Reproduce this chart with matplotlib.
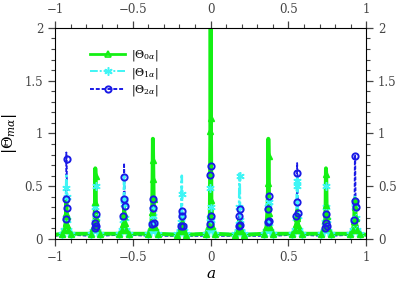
import numpy as np
import matplotlib
matplotlib.use("Agg")
import matplotlib.pyplot as plt
from matplotlib.ticker import MultipleLocator

# resonance positions on the a axis
peak_centers = [-0.927, -0.741, -0.556, -0.371, -0.185, 0.0,
                0.185, 0.371, 0.556, 0.741, 0.927]
# sample offsets around each resonance
peak_offsets = [-0.03, -0.012, -0.005, -0.002, 0.0, 0.002, 0.005, 0.012, 0.03]

edge_x = [-1.0, 1.0]
edge_y = {"theta0": [0.04, 0.04], "theta1": [0.04, 0.04], "theta2": [0.03, 0.03]}

# |Theta_0a| read per resonance
theta0_profiles = [
    [0.05, 0.09, 0.15, 0.25, 0.37, 0.22, 0.13, 0.09, 0.05],
    [0.05, 0.10, 0.16, 0.35, 0.67, 0.60, 0.20, 0.10, 0.05],
    [0.05, 0.09, 0.14, 0.22, 0.30, 0.25, 0.15, 0.09, 0.05],
    [0.05, 0.11, 0.26, 0.57, 0.95, 0.75, 0.38, 0.11, 0.05],
    [0.04, 0.08, 0.11, 0.16, 0.20, 0.15, 0.10, 0.08, 0.04],
    [0.05, 0.12, 0.23, 1.02, 2.60, 1.15, 0.37, 0.12, 0.05],
    [0.04, 0.08, 0.10, 0.14, 0.18, 0.15, 0.10, 0.08, 0.04],
    [0.05, 0.11, 0.30, 0.53, 0.95, 0.79, 0.25, 0.11, 0.05],
    [0.05, 0.09, 0.14, 0.20, 0.27, 0.22, 0.13, 0.09, 0.05],
    [0.05, 0.10, 0.18, 0.32, 0.67, 0.62, 0.22, 0.10, 0.05],
    [0.05, 0.09, 0.17, 0.30, 0.38, 0.37, 0.20, 0.09, 0.05],
]

# |Theta_1a|
theta1_profiles = [
    [0.05, 0.09, 0.20, 0.48, 0.60, 0.40, 0.18, 0.09, 0.05],
    [0.05, 0.08, 0.16, 0.30, 0.52, 0.50, 0.20, 0.08, 0.05],
    [0.05, 0.09, 0.18, 0.38, 0.62, 0.33, 0.20, 0.09, 0.05],
    [0.05, 0.08, 0.14, 0.22, 0.32, 0.28, 0.15, 0.08, 0.05],
    [0.05, 0.08, 0.16, 0.43, 0.60, 0.23, 0.12, 0.08, 0.05],
    [0.05, 0.09, 0.20, 0.48, 0.55, 0.30, 0.18, 0.09, 0.05],
    [0.05, 0.08, 0.14, 0.30, 0.62, 0.60, 0.18, 0.08, 0.05],
    [0.05, 0.08, 0.15, 0.30, 0.38, 0.35, 0.15, 0.08, 0.05],
    [0.05, 0.09, 0.20, 0.50, 0.60, 0.55, 0.22, 0.09, 0.05],
    [0.05, 0.08, 0.16, 0.30, 0.52, 0.50, 0.18, 0.08, 0.05],
    [0.05, 0.09, 0.18, 0.30, 0.40, 0.35, 0.20, 0.09, 0.05],
]

# |Theta_2a|
theta2_profiles = [
    [0.04, 0.10, 0.19, 0.38, 0.82, 0.76, 0.29, 0.16, 0.04],
    [0.03, 0.06, 0.10, 0.15, 0.26, 0.24, 0.12, 0.06, 0.03],
    [0.04, 0.08, 0.22, 0.38, 0.72, 0.59, 0.31, 0.10, 0.04],
    [0.03, 0.06, 0.14, 0.29, 0.40, 0.38, 0.15, 0.06, 0.03],
    [0.03, 0.06, 0.12, 0.22, 0.28, 0.27, 0.12, 0.06, 0.03],
    [0.03, 0.07, 0.14, 0.61, 0.71, 0.69, 0.22, 0.07, 0.03],
    [0.03, 0.06, 0.12, 0.22, 0.30, 0.28, 0.13, 0.06, 0.03],
    [0.03, 0.07, 0.16, 0.28, 0.43, 0.41, 0.17, 0.07, 0.03],
    [0.04, 0.08, 0.22, 0.35, 0.72, 0.63, 0.25, 0.10, 0.04],
    [0.03, 0.06, 0.10, 0.15, 0.26, 0.24, 0.12, 0.06, 0.03],
    [0.04, 0.10, 0.18, 0.36, 0.80, 0.79, 0.30, 0.16, 0.04],
]


def build_series(profiles, ends, marked):
    xs = [edge_x[0]]
    ys = [ends[0]]
    marks = []
    for c, prof in zip(peak_centers, profiles):
        for off, val in zip(peak_offsets, prof):
            if off in marked:
                marks.append(len(xs))
            xs.append(c + off)
            ys.append(val)
    xs.append(edge_x[1])
    ys.append(ends[1])
    return np.array(xs), np.array(ys), marks


plt.rcParams["font.family"] = ["DejaVu Serif"]
plt.rcParams["mathtext.fontset"] = "dejavuserif"

fig = plt.figure(figsize=(4.15, 2.94), dpi=100)
ax = fig.add_axes([0.1325, 0.187, 0.75, 0.718])

green = "#14f014"
cyan = "#3ff5f5"
blue = "#1a1ae6"

all_marks = [-0.03, -0.012, -0.005, -0.002, 0.002, 0.005, 0.012, 0.03]
x0, y0, m0 = build_series(theta0_profiles, edge_y["theta0"], all_marks)
x1, y1, m1 = build_series(theta1_profiles, edge_y["theta1"], all_marks)
x2, y2, m2 = build_series(theta2_profiles, edge_y["theta2"],
                          [-0.005, -0.002, 0.002, 0.005])

# lines first (blue under cyan under green), markers on top
ax.plot(x2, y2, color=blue, lw=1.3, ls=(0, (2, 1)), zorder=2)
ax.plot(x1, y1, color=cyan, lw=1.8, ls=(0, (4, 1, 1, 1)), zorder=2.1)
ax.plot(x0, y0, color=green, lw=2.8, ls="-", zorder=2.2)

ax.plot(x1[m1], y1[m1], ls="none", marker=(6, 2, 0), ms=6,
        mec=cyan, mew=1.1, zorder=3.0)
ax.plot(x0[m0], y0[m0], ls="none", marker="^", ms=4.5, mfc=green,
        mec=green, mew=1.0, zorder=3.1)
ax.plot(x2[m2], y2[m2], ls="none", marker="o", ms=4.5, mfc="none",
        mec=blue, mew=1.4, zorder=3.2)

# legend proxies
h0, = ax.plot([], [], color=green, lw=2.0, marker="^", ms=4.5, mfc="none",
              mec=green, mew=1.2)
h1, = ax.plot([], [], color=cyan, lw=1.4, ls=(0, (4, 1, 1, 1)),
              marker=(6, 2, 0), ms=6, mec=cyan, mew=1.1)
h2, = ax.plot([], [], color=blue, lw=1.4, ls=(0, (2, 1)), marker="o", ms=4.5,
              mfc="none", mec=blue, mew=1.4)
ax.legend([h0, h1, h2],
          [r"$|\Theta_{0\alpha}|$", r"$|\Theta_{1\alpha}|$", r"$|\Theta_{2\alpha}|$"],
          loc="upper left", bbox_to_anchor=(0.08, 0.95), frameon=False,
          fontsize=8, handlelength=3.2, labelspacing=0.2, handletextpad=0.5)

ax.set_xlim(-1, 1)
ax.set_ylim(0, 2)
ax.xaxis.set_major_locator(MultipleLocator(0.5))
ax.xaxis.set_minor_locator(MultipleLocator(0.1))
ax.yaxis.set_major_locator(MultipleLocator(0.5))
ax.yaxis.set_minor_locator(MultipleLocator(0.1))
ax.xaxis.set_major_formatter(plt.FuncFormatter(lambda v, p: f"{v:g}".replace("-", "\u2212")))
ax.yaxis.set_major_formatter(plt.FuncFormatter(lambda v, p: f"{v:g}"))
ax.tick_params(which="both", direction="out", top=True, right=True,
               labeltop=True, labelright=True, labelsize=8.5,
               labelcolor="#444444", color="#444444")
ax.tick_params(which="major", length=5, width=0.9)
ax.tick_params(which="minor", length=3, width=0.8)

ax.set_xlabel(r"$a$", fontsize=11, labelpad=2)
ax.set_ylabel(r"$|\Theta_{m\alpha}|$", fontsize=11, labelpad=4)

fig.savefig("out.png", dpi=100)
